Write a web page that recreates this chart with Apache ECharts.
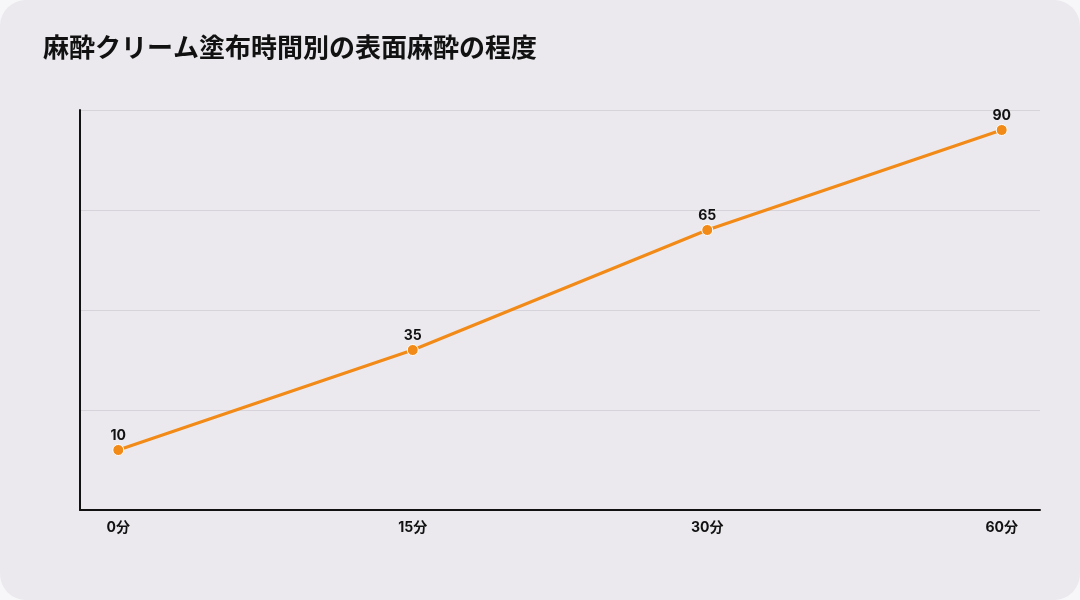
<!DOCTYPE html>
<html>
<head>
<meta charset="utf-8">
<script src="https://cdn.jsdelivr.net/npm/echarts@6/dist/echarts.min.js"></script>
<style>
  html, body { margin: 0; padding: 0; background: #f7f7f9; }
  #main { width: 1080px; height: 600px; background: #ebe9ee; border-radius: 26px; }
</style>
</head>
<body>
<div id="main"></div>
<script>
// 塗布時間（カテゴリ）と麻酔の程度
const categories = ['0分', '15分', '30分', '60分'];
const values = [10, 35, 65, 90];
const title = '麻酔クリーム塗布時間別の表面麻酔の程度';

const chart = echarts.init(document.getElementById('main'));

var points = values.map(function (v, i) { return [i, v]; });
var font = 'Inter, "Noto Sans CJK JP", sans-serif';

var option = {
  animation: false,
  title: {
    text: title,
    left: 38,
    top: 29,
    textStyle: {
      fontFamily: '"Noto Sans CJK JP"',
      fontSize: 26,
      fontWeight: 'bold',
      color: '#111111'
    }
  },
  grid: { left: 80, right: 40, top: 110, bottom: 90 },
  xAxis: {
    type: 'value',
    min: -0.13,
    max: 3.13,
    axisLine: { show: true, onZero: false, lineStyle: { color: '#111111', width: 2 } },
    axisTick: { show: false },
    splitLine: { show: false },
    axisLabel: {
      customValues: [0, 1, 2, 3],
      formatter: function (v) { return categories[Math.round(v)]; },
      margin: 11,
      fontFamily: font,
      fontSize: 14,
      fontWeight: 'bold',
      color: '#111111'
    }
  },
  yAxis: {
    type: 'value',
    min: -5,
    max: 95,
    interval: 25,
    axisLine: { show: true, onZero: false, lineStyle: { color: '#111111', width: 2 } },
    axisTick: { show: false },
    axisLabel: { show: false },
    splitLine: { show: true, lineStyle: { color: '#d6d4da', width: 1 } }
  },
  series: [{
    type: 'line',
    data: points,
    symbol: 'circle',
    symbolSize: 11,
    lineStyle: { color: '#f28a17', width: 3 },
    itemStyle: { color: '#f28a17', borderColor: '#ffffff', borderWidth: 1 },
    label: {
      show: true,
      position: 'top',
      distance: 1,
      formatter: function (p) { return p.value[1]; },
      fontFamily: font,
      fontSize: 14,
      fontWeight: 'bold',
      color: '#111111'
    }
  }]
};

chart.setOption(option);
</script>
</body>
</html>
